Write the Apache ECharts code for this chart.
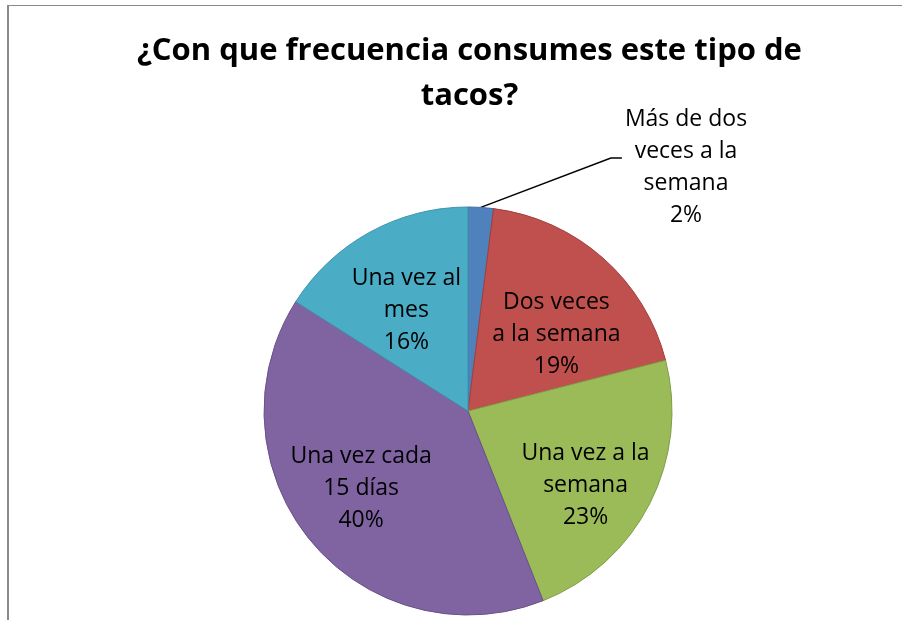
<!DOCTYPE html>
<html>
<head>
<meta charset="utf-8">
<script src="https://cdn.jsdelivr.net/npm/echarts@6/dist/echarts.min.js"></script>
<style>
  html, body { margin: 0; padding: 0; width: 902px; height: 620px; overflow: hidden; background: #ffffff; }
  #frame {
    position: absolute; left: 7px; top: 5px; width: 921px; height: 720px;
    border-top: 1px solid #8a8a8a; border-left: 2px solid #8a8a8a; background: #ffffff;
  }
  #chart { width: 921px; height: 720px; }
</style>
</head>
<body>
<div id="frame"><div id="chart"></div></div>
<script>
// Survey answers: how often these tacos are eaten (share of respondents, %)
const categories = [
  'Más de dos\nveces a la\nsemana',
  'Dos veces\na la semana',
  'Una vez a la\nsemana',
  'Una vez cada\n15 días',
  'Una vez al\nmes'
];
const shares = [2, 19, 23, 40, 16];

// Office-style palette and slightly darker slice outlines
const fills   = ['#4F81BD', '#C0504D', '#9BBB59', '#8064A2', '#4BACC6'];
const strokes = ['#3F6EA6', '#A13F3C', '#7F9C45', '#6A5189', '#3A94AC'];

// Extra shift of the inside labels away from the library's default spot
const labelNudge = [[0, 0], [19, 2], [24, 27], [-26, 11], [-11, -9]];

const FONT = '"Open Sans", Lato, sans-serif';

const chart = echarts.init(document.getElementById('chart'), null, { renderer: 'canvas' });

const data = categories.map((name, i) => ({
  name: name,
  value: shares[i],
  itemStyle: { color: fills[i], borderColor: strokes[i], borderWidth: 1 },
  label: i === 0
    ? { position: 'outside' }
    : { position: 'inside' },
  labelLine: { show: i === 0 }
}));

chart.setOption({
  animation: false,
  backgroundColor: '#ffffff',
  title: {
    text: '¿Con que frecuencia consumes este tipo de\ntacos?',
    left: 'center',
    top: 18,
    textStyle: {
      fontFamily: FONT,
      fontWeight: 'bold',
      fontSize: 31,
      lineHeight: 45,
      color: '#000000'
    }
  },
  series: [{
    type: 'pie',
    center: [459, 405],
    radius: 204,
    startAngle: 90,
    clockwise: true,
    avoidLabelOverlap: false,
    data: data,
    label: {
      show: true,
      formatter: '{b}\n{d}%',
      fontFamily: FONT,
      fontSize: 23,
      lineHeight: 32,
      color: '#000000',
      align: 'center'
    },
    labelLine: {
      length: 20,
      length2: 10,
      lineStyle: { color: '#000000', width: 1.5 }
    },
    emphasis: { disabled: true },
    labelLayout: function (p) {
      if (p.dataIndex === 0) {
        // Caption for the thin slice sits up to the right, joined by a leader line
        const w = p.labelRect.width;
        const cx = 677, cy = 161;
        const left = cx - w / 2 - 3;
        const start = p.labelLinePoints ? p.labelLinePoints[0] : [left - 120, cy + 40];
        return {
          x: cx, y: cy, align: 'center', verticalAlign: 'middle',
          labelLinePoints: [start, [left - 11, cy - 9], [left, cy - 9]]
        };
      }
      const n = labelNudge[p.dataIndex];
      return { dx: n[0], dy: n[1] };
    }
  }]
});
</script>
</body>
</html>
